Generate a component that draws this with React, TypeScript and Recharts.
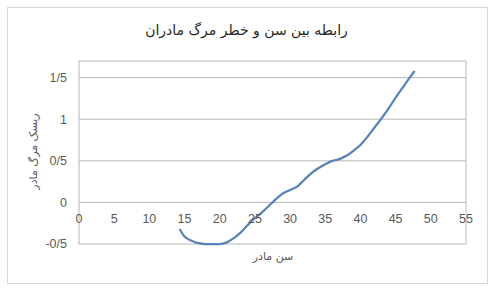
import React from 'react';
import { LineChart, Line, XAxis, YAxis, CartesianGrid, ReferenceDot } from 'recharts';

// mother's age (years) and the matching relative mortality risk
const ages = [14.3, 15, 16, 17, 18, 19, 20, 21, 22, 23, 24, 25, 26, 27, 28, 29, 30, 31, 32, 33, 34, 35, 36, 37, 38, 39, 40, 41, 42, 43, 44, 45, 46, 47, 47.7];
const risk = [-0.32, -0.41, -0.46, -0.49, -0.5, -0.5, -0.5, -0.48, -0.43, -0.36, -0.27, -0.19, -0.12, -0.04, 0.04, 0.11, 0.15, 0.19, 0.27, 0.35, 0.41, 0.46, 0.5, 0.52, 0.56, 0.62, 0.69, 0.79, 0.9, 1.01, 1.13, 1.26, 1.38, 1.5, 1.58];

const xTicks = [0, 5, 10, 15, 20, 25, 30, 35, 40, 45, 50, 55];
const yTicks = [-0.5, 0, 0.5, 1, 1.5];

const title = 'رابطه بین سن و خطر مرگ مادران';
const xTitle = 'سن مادر';
const yTitle = 'ریسک مرگ مادر';

const data = ages.map((age, i) => ({ age, risk: risk[i] }));

const labelFont = '"Liberation Sans", "DejaVu Sans", sans-serif';
const gray = '#595959';

// Persian style decimal separator: 1.5 -> 1/5
const fmt = (v: number) => String(v).replace('.', '/');

export default function App() {
  return (
    <div style={{ position: 'absolute', left: 0, top: 0, width: 493, height: 289, background: '#fff', overflow: 'hidden' }}>
      <div style={{ position: 'absolute', left: 7, top: 7, width: 479, height: 275, border: '1px solid #d9d9d9' }} />
      <div
        style={{
          position: 'absolute', left: 0, top: 22, width: 493, textAlign: 'center',
          fontFamily: '"DejaVu Sans", sans-serif', fontSize: 14, color: '#262626', direction: 'rtl',
        }}
      >
        {title}
      </div>
      <div
        style={{
          position: 'absolute', left: 223, top: 250, width: 100, textAlign: 'center',
          fontFamily: '"DejaVu Sans", sans-serif', fontSize: 11, color: gray, direction: 'rtl',
        }}
      >
        {xTitle}
      </div>
      <div
        style={{
          position: 'absolute', left: -17, top: 145, width: 100, textAlign: 'center',
          fontFamily: '"DejaVu Sans", sans-serif', fontSize: 11, color: gray, direction: 'rtl',
          transform: 'rotate(-90deg)',
        }}
      >
        {yTitle}
      </div>
      <LineChart
        width={493}
        height={289}
        data={data}
        margin={{ top: 61, right: 27, bottom: 45, left: 19 }}
        style={{ position: 'absolute', left: 0, top: 0 }}
      >
        <CartesianGrid stroke="#b8b8b8" strokeWidth={1} />
        <XAxis
          dataKey="age"
          type="number"
          domain={[0, 55]}
          ticks={xTicks}
          tick={false}
          axisLine={false}
          tickLine={false}
          height={0}
        />
        <YAxis
          type="number"
          domain={[-0.5, 1.7]}
          ticks={yTicks}
          width={60}
          axisLine={false}
          tickLine={false}
          tickMargin={6}
          tickFormatter={fmt}
          tick={{ fill: gray, fontSize: 12.5, fontFamily: labelFont }}
        />
        {xTicks.map((t) => (
          <ReferenceDot
            key={t}
            x={t}
            y={0}
            r={0}
            fill="none"
            stroke="none"
            label={{ value: String(t), position: 'bottom', offset: 12, fill: gray, fontSize: 12.5, fontFamily: labelFont }}
          />
        ))}
        <Line
          type="monotone"
          dataKey="risk"
          stroke="#5882ba"
          strokeWidth={2.25}
          dot={false}
          isAnimationActive={false}
        />
      </LineChart>
    </div>
  );
}
